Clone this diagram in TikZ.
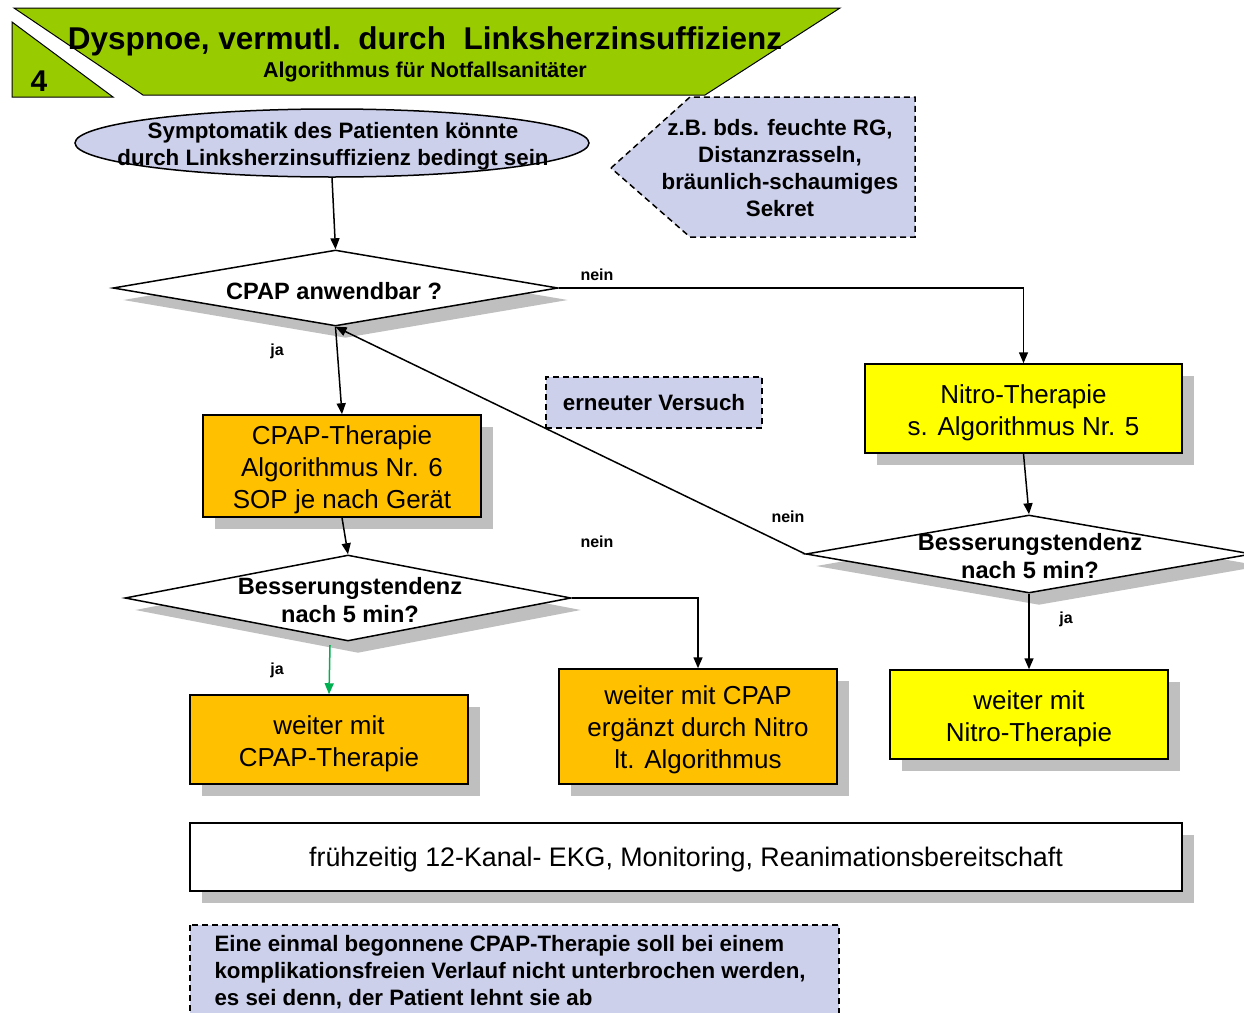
\documentclass[tikz,border=0pt]{standalone}
\usepackage{fontspec}
\setmainfont{Liberation Sans}
\usetikzlibrary{arrows.meta,shapes.geometric,shadows,calc}
\definecolor{lav}{RGB}{204,208,235}
\definecolor{grn}{RGB}{153,204,0}
\definecolor{org}{RGB}{255,192,0}
\definecolor{ylw}{RGB}{255,255,0}
\definecolor{shd}{RGB}{191,191,191}
\definecolor{gar}{RGB}{0,176,80}
\begin{document}
\begin{tikzpicture}[x=1pt,y=-1pt,
  conn/.style={line width=1.5pt,-{Triangle[length=11pt,width=9pt]}},
  shad/.style={drop shadow={shadow xshift=12pt,shadow yshift=-12pt,fill=shd,opacity=1}},
  dshad/.style={drop shadow={shadow xshift=10pt,shadow yshift=-12pt,fill=shd,opacity=1}},
  box/.style={draw=black,line width=1.5pt,inner sep=0pt,shad},
  boxtxt/.style={font=\fontsize{26}{32}\selectfont,align=center},
  dia/.style={diamond,draw=black,line width=1.5pt,fill=white,inner sep=0pt,dshad},
  boldtxt/.style={font=\bfseries\fontsize{22.3}{27}\selectfont,align=center},
  diatxt/.style={font=\bfseries\fontsize{23.6}{28}\selectfont,align=center},
  lbl/.style={font=\bfseries\fontsize{16}{18}\selectfont},
  dashbox/.style={draw=black,line width=1.5pt,dash pattern=on 6pt off 4pt,fill=lav}
]
\useasboundingbox (0,0) rectangle (1244,1012);

% header
\filldraw[fill=grn,draw=black,line width=1pt] (14,8) -- (840,8) -- (705,95) -- (143,95) -- cycle;
\filldraw[fill=grn,draw=black,line width=1pt] (12,22) -- (12,97) -- (113,97) -- cycle;
\node[font=\bfseries\fontsize{31.5}{36}\selectfont] (title) at (425,41) {Dyspnoe, vermutl.\ \ durch\ \ Linksherzinsuffizienz};
\node[font=\bfseries\fontsize{21.5}{24}\selectfont] (subtitle) at (425,72) {Algorithmus für Notfallsanitäter};
\node[font=\bfseries\fontsize{30}{34}\selectfont] (num) at (39,81) {4};

% callout
\path[dashbox] (611,168) -- (690,97) -- (915,97) -- (915,237) -- (690,237) -- cycle;
\node[boldtxt] (callout) at (780,168) {z.B. bds. feuchte RG,\\Distanzrasseln,\\bräunlich-schaumiges\\Sekret};

% ellipse
\node[ellipse,draw=black,line width=1.5pt,fill=lav,minimum width=514pt,minimum height=68pt,inner sep=0pt] (sym) at (332,143) {};
\node[boldtxt] (symtxt) at (333,146) {Symptomatik des Patienten könnte\\durch Linksherzinsuffizienz bedingt sein};

% diamonds
\node[dia,minimum width=445pt,minimum height=76pt] (d1) at (335.5,288) {};
\node[diatxt] (d1t) at (334,291) {CPAP anwendbar ?};
\node[dia,minimum width=446pt,minimum height=86pt] (d2) at (348,598) {};
\node[diatxt] (d2t) at (350,600) {Besserungstendenz\\nach 5 min?};
\node[dia,minimum width=446pt,minimum height=78pt] (d3) at (1029,554) {};
\node[diatxt] (d3t) at (1030,556) {Besserungstendenz\\nach 5 min?};

% boxes
\node[box,fill=org,minimum width=278pt,minimum height=102pt] (cpap) at (342,466) {};
\node[boxtxt] (cpapt) at ([yshift=-4pt]cpap.center) {CPAP-Therapie\\Algorithmus Nr. 6\\SOP je nach Gerät};
\node[box,fill=ylw,minimum width=317pt,minimum height=89pt] (nitro) at (1023.5,408.5) {};
\node[boxtxt] (nitrot) at ([yshift=-4pt]nitro.center) {Nitro-Therapie\\s. Algorithmus Nr. 5};
\node[box,fill=org,minimum width=278pt,minimum height=89pt] (wcpap) at (329,739.5) {};
\node[boxtxt] (wcpapt) at ([yshift=-4pt]wcpap.center) {weiter mit\\CPAP-Therapie};
\node[box,fill=org,minimum width=278pt,minimum height=115pt] (erg) at (698,726.5) {};
\node[boxtxt] (ergt) at ([yshift=-3pt]erg.center) {weiter mit CPAP\\ergänzt durch Nitro\\lt. Algorithmus};
\node[box,fill=ylw,minimum width=278pt,minimum height=89pt] (wnitro) at (1029,714.5) {};
\node[boxtxt] (wnitrot) at ([yshift=-4pt]wnitro.center) {weiter mit\\Nitro-Therapie};
\node[box,fill=white,minimum width=992pt,minimum height=68pt] (ekg) at (686,857) {};
\node[boxtxt,font=\fontsize{26.8}{32}\selectfont] (ekgt) at ([yshift=-3pt]ekg.center) {frühzeitig 12-Kanal- EKG, Monitoring, Reanimationsbereitschaft};

% connectors
\draw[conn] (sym.south) -- (d1.north);
\draw[conn] (d1.east) -| (nitro.north);
\draw[conn] (d1.south) -- (cpap.north);
\draw[conn] (d3.west) -- (d1.south);
\draw[conn] (cpap.south) -- (d2.north);
\draw[conn] (d2.east) -| (erg.north);
\coordinate (gstart) at (330,645);
\draw[conn,draw=gar,fill=gar] (gstart) -- (wcpap.north);
\draw[conn] (nitro.south) -- (d3.north);
\draw[conn] (d3.south) -- (wnitro.north);

% erneuter Versuch
\node[dashbox,minimum width=216pt,minimum height=51pt,inner sep=0pt,boldtxt] (retry) at (654,402.5) {erneuter Versuch};

% labels
\node[lbl] (l1) at (597,275) {nein};
\node[lbl] (l2) at (277,351) {ja};
\node[lbl] (l3) at (788,517) {nein};
\node[lbl] (l4) at (597,542) {nein};
\node[lbl] (l5) at (277,670) {ja};
\node[lbl] (l6) at (1066,619) {ja};

% bottom note
\path[dashbox] (190,925) rectangle (839,1030);
\node[boldtxt,align=left,anchor=north west] (note) at (211,932) {Eine einmal begonnene CPAP-Therapie soll bei einem\\komplikationsfreien Verlauf nicht unterbrochen werden,\\es sei denn, der Patient lehnt sie ab};
\end{tikzpicture}
\end{document}
